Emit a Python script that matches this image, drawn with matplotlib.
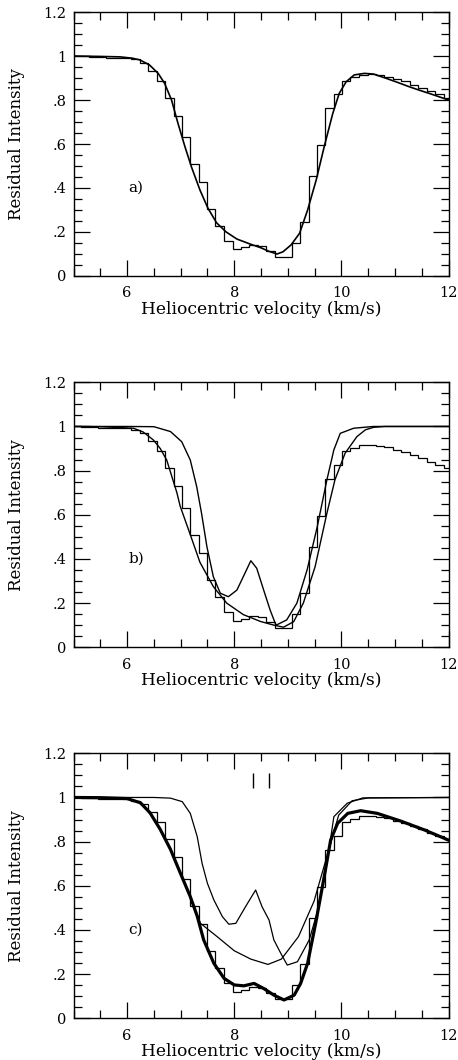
import matplotlib
matplotlib.use("Agg")
import matplotlib.pyplot as plt
from matplotlib.ticker import MultipleLocator, FixedLocator, FixedFormatter

plt.rcParams['font.family'] = ['DejaVu Serif']

# ---------------- data ----------------
# observed spectrum (histogram): bin edges and residual intensity per bin
obs_edges = [5.00, 5.14, 5.29, 5.45, 5.61, 5.77, 5.92, 6.08, 6.24, 6.39, 6.55, 6.71,
             6.87, 7.02, 7.18, 7.34, 7.50, 7.65, 7.81, 7.97, 8.13, 8.28, 8.44, 8.60,
             8.76, 8.91, 9.07, 9.23, 9.39, 9.54, 9.70, 9.86, 10.02, 10.17, 10.33,
             10.49, 10.65, 10.80, 10.96, 11.12, 11.28, 11.43, 11.59, 11.75, 11.91, 12.00]
obs_vals = [1.000, 0.998, 0.997, 0.995, 0.993, 0.993, 0.992, 0.985, 0.970, 0.932, 0.888,
            0.810, 0.729, 0.633, 0.509, 0.427, 0.305, 0.229, 0.159, 0.121, 0.130, 0.143,
            0.135, 0.115, 0.088, 0.088, 0.149, 0.247, 0.456, 0.595, 0.762, 0.827, 0.888,
            0.903, 0.915, 0.918, 0.912, 0.905, 0.895, 0.885, 0.870, 0.855, 0.840, 0.825,
            0.810]

# panel a: fitted model
fit_a_v = [5.0, 5.5, 5.87, 6.1, 6.24, 6.42, 6.58, 6.70, 6.83, 6.95, 7.08, 7.20, 7.36,
           7.51, 7.67, 7.85, 8.05, 8.30, 8.50, 8.65, 8.80, 8.91, 9.06, 9.22, 9.37, 9.53,
           9.68, 9.84, 9.96, 10.09, 10.24, 10.43, 10.60, 10.83, 11.05, 11.27, 11.45,
           11.64, 11.82, 12.0]
fit_a_r = [1.0, 0.998, 0.996, 0.990, 0.982, 0.959, 0.921, 0.876, 0.800, 0.694, 0.588,
           0.497, 0.391, 0.308, 0.242, 0.200, 0.168, 0.145, 0.128, 0.112, 0.100, 0.110,
           0.141, 0.194, 0.300, 0.436, 0.588, 0.739, 0.830, 0.883, 0.914, 0.921, 0.918,
           0.899, 0.880, 0.860, 0.845, 0.830, 0.815, 0.800]

# panel b: broad single-cloud model
broad_b_v = [5.0, 5.5, 6.12, 6.30, 6.49, 6.62, 6.74, 6.93, 6.99, 7.18, 7.36, 7.61, 7.86,
             8.17, 8.49, 8.73, 8.92, 9.11, 9.29, 9.51, 9.73, 9.88, 10.07, 10.29, 10.45,
             10.60, 10.80, 12.0]
broad_b_r = [1.0, 0.999, 0.992, 0.975, 0.939, 0.900, 0.848, 0.700, 0.640, 0.510, 0.385,
             0.275, 0.200, 0.148, 0.117, 0.101, 0.091, 0.116, 0.200, 0.365, 0.607, 0.758,
             0.879, 0.954, 0.985, 0.996, 1.0, 1.0]

# panel b: narrow two-component model
narrow_b_v = [5.0, 6.0, 6.5, 6.81, 7.02, 7.18, 7.30, 7.39, 7.49, 7.61, 7.74, 7.89, 8.05,
              8.17, 8.31, 8.42, 8.55, 8.67, 8.78, 8.98, 9.17, 9.36, 9.55, 9.73, 9.86,
              9.98, 10.23, 10.6, 12.0]
narrow_b_r = [1.0, 1.0, 0.999, 0.977, 0.931, 0.848, 0.727, 0.607, 0.456, 0.320, 0.245,
              0.229, 0.259, 0.320, 0.392, 0.358, 0.259, 0.169, 0.100, 0.124, 0.200, 0.350,
              0.546, 0.758, 0.894, 0.969, 0.992, 1.0, 1.0]

# panel c: total model (thick)
total_c_v = [5.0, 5.5, 6.0, 6.25, 6.43, 6.62, 6.81, 6.99, 7.18, 7.31, 7.43, 7.62, 7.81,
             8.0, 8.18, 8.37, 8.55, 8.74, 8.93, 9.12, 9.24, 9.37, 9.52, 9.68, 9.80, 9.93,
             10.12, 10.36, 10.67, 11.11, 11.55, 12.0]
total_c_r = [1.0, 0.999, 0.995, 0.976, 0.930, 0.855, 0.765, 0.660, 0.551, 0.462, 0.355,
             0.249, 0.181, 0.151, 0.147, 0.158, 0.135, 0.105, 0.083, 0.105, 0.158, 0.249,
             0.430, 0.641, 0.807, 0.883, 0.928, 0.940, 0.928, 0.893, 0.853, 0.807]

# panel c: component with central emission-like bump
comp1_c_v = [5.0, 6.5, 6.81, 7.03, 7.18, 7.31, 7.40, 7.50, 7.62, 7.78, 7.90, 8.03, 8.21,
             8.40, 8.52, 8.65, 8.74, 8.87, 8.99, 9.18, 9.40, 9.58, 9.74, 9.86, 10.11,
             10.4, 12.0]
comp1_c_r = [1.0, 1.0, 0.997, 0.981, 0.928, 0.822, 0.702, 0.611, 0.536, 0.460, 0.426,
             0.430, 0.505, 0.581, 0.505, 0.445, 0.355, 0.294, 0.241, 0.256, 0.355, 0.505,
             0.717, 0.913, 0.974, 0.998, 1.0]

# panel c: smooth broad component
comp2_c_v = [5.0, 5.5, 6.0, 6.25, 6.43, 6.62, 6.81, 6.99, 7.18, 7.37, 7.68, 8.0, 8.31,
             8.63, 8.88, 9.2, 9.49, 9.75, 9.95, 10.2, 10.5, 12.0]
comp2_c_r = [1.0, 0.999, 0.995, 0.976, 0.930, 0.855, 0.765, 0.660, 0.551, 0.430, 0.370,
             0.306, 0.268, 0.244, 0.268, 0.370, 0.530, 0.750, 0.920, 0.985, 0.998, 1.0]

# component velocity markers (panel c)
marker_v = [8.35, 8.65]

ytick_vals = [0, 0.2, 0.4, 0.6, 0.8, 1.0, 1.2]
ytick_labels = ['0', '.2', '.4', '.6', '.8', '1', '1.2']
xtick_vals = [6, 8, 10, 12]
xtick_labels = ['6', '8', '10', '12']
panel_labels = ['a)', 'b)', 'c)']

# ---------------- figure ----------------
W, H = 458, 1060
fig = plt.figure(figsize=(W / 100, H / 100), dpi=100)

left, right = 73.5, 448.5
tops = [12, 382.3, 753.3]
bottoms = [276, 647.3, 1018.3]

axes = []
for t, b in zip(tops, bottoms):
    ax = fig.add_axes([left / W, 1 - b / H, (right - left) / W, (b - t) / H])
    axes.append(ax)

for i, ax in enumerate(axes):
    ax.set_xlim(5, 12)
    ax.set_ylim(0, 1.2)
    ax.xaxis.set_major_locator(FixedLocator(xtick_vals))
    ax.xaxis.set_major_formatter(FixedFormatter(xtick_labels))
    ax.xaxis.set_minor_locator(MultipleLocator(0.5))
    ax.yaxis.set_major_locator(FixedLocator(ytick_vals))
    ax.yaxis.set_major_formatter(FixedFormatter(ytick_labels))
    ax.yaxis.set_minor_locator(MultipleLocator(0.05))
    ax.tick_params(which='both', direction='in', top=True, right=True,
                   width=0.9, color='black')
    ax.tick_params(which='major', length=11.5, labelsize=10.5)
    ax.tick_params(which='minor', length=5.8)
    ax.tick_params(axis='x', which='major', pad=7.5)
    ax.tick_params(axis='y', which='major', pad=5)
    for sp in ax.spines.values():
        sp.set_linewidth(1.0)
    ax.set_xlabel('Heliocentric velocity (km/s)', fontsize=12.3, va='top')
    ax.xaxis.set_label_coords(0.5, -0.094)
    ax.set_ylabel('Residual Intensity', fontsize=12)
    ax.yaxis.set_label_coords(-0.13, 0.5)
    ax.text(6.02, 0.40, panel_labels[i], fontsize=11, ha='left', va='center')
    ax.stairs(obs_vals, obs_edges, baseline=None, color='black', linewidth=0.9)

axes[0].plot(fit_a_v, fit_a_r, color='black', linewidth=1.2)

axes[1].plot(broad_b_v, broad_b_r, color='black', linewidth=1.0)
axes[1].plot(narrow_b_v, narrow_b_r, color='black', linewidth=1.0)

axes[2].plot(comp1_c_v, comp1_c_r, color='black', linewidth=0.9)
axes[2].plot(comp2_c_v, comp2_c_r, color='black', linewidth=0.9)
axes[2].plot(total_c_v, total_c_r, color='black', linewidth=2.3)
axes[2].vlines(marker_v, 1.042, 1.112, color='black', linewidth=1.0)

fig.savefig('out.png', dpi=100)
